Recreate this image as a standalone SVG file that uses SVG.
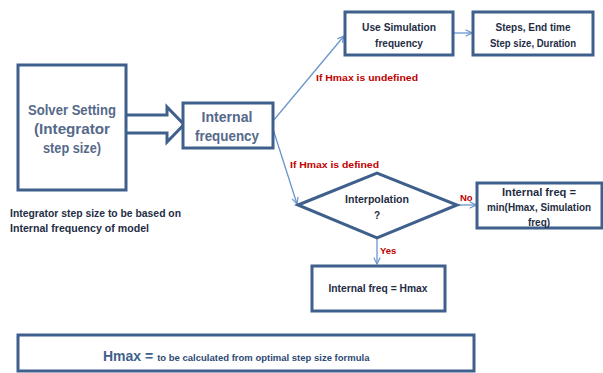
<svg xmlns="http://www.w3.org/2000/svg" width="603" height="373" viewBox="0 0 603 373">
<style>
.box{fill:#fff;stroke:#3f5f8c;stroke-width:3}
.t{font-family:"Liberation Sans",Arial,sans-serif;font-weight:bold;fill:#1f2d45;text-anchor:middle}
.big{font-family:"Liberation Sans",Arial,sans-serif;font-weight:bold;fill:#55698a;text-anchor:middle}
.red{font-family:"Liberation Sans",Arial,sans-serif;font-weight:bold;fill:#c00000;font-size:9.5px}
.conn{fill:none;stroke:#6a95cc;stroke-width:1.3;marker-end:url(#ah)}
</style>
<defs>
<marker id="ah" viewBox="0 0 10 10" refX="9" refY="5" markerWidth="8" markerHeight="8" orient="auto" markerUnits="userSpaceOnUse">
<path d="M1,1 L9,5 L1,9" fill="none" stroke="#6a95cc" stroke-width="1.5"/>
</marker>
</defs>
<rect width="603" height="373" fill="#fff"/>
<g id="connectors">
<path d="M126,115 H167 V107 L184,124.5 L167,142 V133 H126" fill="#fff" stroke="#3f5f8c" stroke-width="3" stroke-linejoin="miter"/>
<path class="conn" d="M273,121 L344,36"/>
<path class="conn" d="M453,33 L472,33"/>
<path class="conn" d="M273,129 L297,204"/>
<path class="conn" d="M457,205 L476,205"/>
<path class="conn" d="M377,238 L377,264"/>
</g>
<g id="solver">
<rect class="box" x="18" y="65" width="108" height="125"/>
<text class="big" font-size="14" x="72" y="115" textLength="88" lengthAdjust="spacingAndGlyphs">Solver Setting</text>
<text class="big" font-size="14" x="72" y="134" textLength="76" lengthAdjust="spacingAndGlyphs">(Integrator</text>
<text class="big" font-size="14" x="72" y="153" textLength="58" lengthAdjust="spacingAndGlyphs">step size)</text>
</g>
<g id="internal">
<rect class="box" x="183" y="103" width="90" height="45"/>
<text class="big" font-size="14" x="227" y="122" textLength="51" lengthAdjust="spacingAndGlyphs">Internal</text>
<text class="big" font-size="14" x="227" y="141" textLength="64" lengthAdjust="spacingAndGlyphs">frequency</text>
</g>
<g id="caption">
<text class="t" style="text-anchor:start" font-size="10" x="10" y="217" textLength="171" lengthAdjust="spacingAndGlyphs">Integrator step size to be based on</text>
<text class="t" style="text-anchor:start" font-size="10" x="10" y="232" textLength="139" lengthAdjust="spacingAndGlyphs">Internal frequency of model</text>
</g>
<g id="usesim">
<rect class="box" x="345" y="12" width="108" height="43"/>
<text class="t" font-size="10" x="399" y="31" textLength="74" lengthAdjust="spacingAndGlyphs">Use Simulation</text>
<text class="t" font-size="10" x="399" y="47">frequency</text>
</g>
<g id="steps">
<rect class="box" x="473" y="12" width="120" height="43"/>
<text class="t" font-size="10" x="533" y="31" textLength="75" lengthAdjust="spacingAndGlyphs">Steps, End time</text>
<text class="t" font-size="10" x="533" y="47" textLength="86" lengthAdjust="spacingAndGlyphs">Step size, Duration</text>
</g>
<g id="labels">
<text class="red" x="316" y="81" textLength="102" lengthAdjust="spacingAndGlyphs">If Hmax is undefined</text>
<text class="red" x="290" y="168" textLength="89" lengthAdjust="spacingAndGlyphs">If Hmax is defined</text>
<text class="red" x="460" y="201">No</text>
<text class="red" x="380" y="254">Yes</text>
</g>
<g id="interp">
<path d="M298,205 L377,173 L457,205 L377,238 Z" fill="#fff" stroke="#3f5f8c" stroke-width="3" stroke-linejoin="miter"/>
<text class="t" font-size="10" x="377" y="203" textLength="64" lengthAdjust="spacingAndGlyphs">Interpolation</text>
<text class="t" font-size="10" x="377" y="219">?</text>
</g>
<g id="minbox">
<rect class="box" x="477" y="183" width="125" height="45"/>
<text class="t" font-size="10" x="539" y="196" textLength="74" lengthAdjust="spacingAndGlyphs">Internal freq =</text>
<text class="t" font-size="10" x="539" y="211" textLength="104" lengthAdjust="spacingAndGlyphs">min(Hmax, Simulation</text>
<text class="t" font-size="10" x="539" y="226">freq)</text>
</g>
<g id="hmaxbox">
<rect class="box" x="312" y="266" width="133" height="45"/>
<text class="t" font-size="10" x="378" y="292" textLength="99" lengthAdjust="spacingAndGlyphs">Internal freq = Hmax</text>
</g>
<g id="formula">
<rect class="box" x="18" y="335" width="456" height="36"/>
<text font-family="Liberation Sans, Arial, sans-serif" x="103" y="361" fill="#3f5f8c"><tspan font-size="14" font-weight="bold">Hmax =</tspan><tspan font-size="9.5" font-weight="bold" dx="4" fill="#2e4a75">to be calculated from optimal step size formula</tspan></text>
</g>
</svg>
